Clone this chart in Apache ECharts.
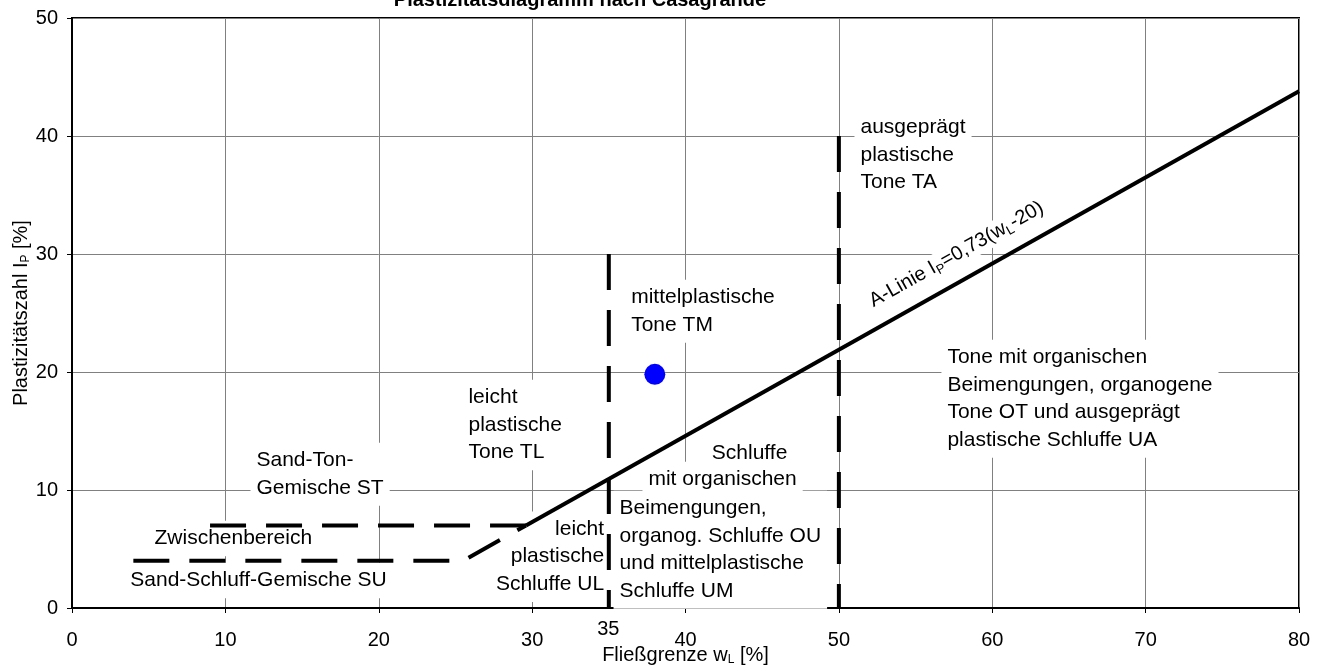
<!DOCTYPE html>
<html>
<head>
<meta charset="utf-8">
<script src="https://cdn.jsdelivr.net/npm/echarts@6/dist/echarts.min.js"></script>
<style>html,body{margin:0;padding:0;background:#fff}#c{width:1321px;height:671px}</style>
</head>
<body>
<div id="c"></div>
<script>
// ---- data ----
const xRange = [0, 80];
const yRange = [0, 50];
const aLineSolid = [[29.6, 7], [80, 43.8]];
const aLineDashed = [[4, 4], [25.5, 4], [29.6, 7]];
const stBoundary = [[9, 7], [29.6, 7]];
const wl35Line = [[35, 30], [35, 0]];
const wl50Line = [[50, 40], [50, 0]];
const samplePoint = [[38, 19.8]];
const extraTickLabel = { value: 35, text: '35' };

const regionTexts = [
  { text: 'ausgeprägt\nplastische\nTone TA', at: [51.05, 42.18], align: 'left' },
  { text: 'mittelplastische\nTone TM', at: [36.10, 27.78], align: 'left' },
  { text: 'leicht\nplastische\nTone TL', at: [25.49, 19.30], align: 'left' },
  { text: 'Sand-Ton-\nGemische ST', at: [11.67, 13.96], align: 'left' },
  { text: 'Zwischenbereich', at: [5.02, 7.35], align: 'left' },
  { text: 'Sand-Schluff-Gemische SU', at: [3.44, 3.79], align: 'left' },
  { text: 'leicht\nplastische\nSchluffe UL', at: [34.92, 8.14], align: 'right' },
  { text: 'Schluffe', at: [44.21, 14.58], align: 'center' },
  { text: 'mit organischen', at: [42.45, 12.35], align: 'center' },
  { text: 'Beimengungen,\norganog. Schluffe OU\nund mittelplastische\nSchluffe UM', at: [35.34, 9.89], align: 'left' },
  { text: 'Tone mit organischen\nBeimengungen, organogene\nTone OT und ausgeprägt\nplastische Schluffe UA', at: [56.72, 22.69], align: 'left' }
];
const aLineLabel = { text: 'A-Linie I{sub|P}=0,73(w{sub|L}-20)', at: [57.70, 29.92], rotate: 29.3 };

// ---- chart ----
const FF = '"Liberation Sans", Arial, Helvetica, sans-serif';
const chart = echarts.init(document.getElementById('c'), null, { renderer: 'canvas' });

const textData = regionTexts.map(t => ({
  value: t.at,
  label: {
    show: true,
    formatter: t.text,
    position: [0, 0],
    align: t.align,
    verticalAlign: 'top',
    fontSize: 21,
    lineHeight: 27.5,
    fontFamily: FF,
    color: '#000',
    opacity: 1,
    backgroundColor: '#fff',
    padding: t.align === 'right' ? [4, 3, 4, 6] : [4, 6, 4, 6]
  }
}));
textData.push({
  value: aLineLabel.at,
  label: {
    show: true,
    formatter: aLineLabel.text,
    position: [0, 0],
    align: 'center',
    verticalAlign: 'middle',
    rotate: aLineLabel.rotate,
    fontSize: 20,
    lineHeight: 24,
    fontFamily: FF,
    color: '#000',
    opacity: 1,
    backgroundColor: '#fff',
    padding: [0, 4, 0, 4],
    rich: { sub: { fontSize: 13, lineHeight: 10, verticalAlign: 'bottom', fontFamily: FF, color: '#000' } }
  }
});
textData.push({
  value: [extraTickLabel.value, 0],
  label: {
    show: true,
    formatter: extraTickLabel.text,
    position: [0, 0],
    align: 'center',
    verticalAlign: 'middle',
    offset: [0, 22],
    fontSize: 20,
    fontFamily: FF,
    color: '#000',
    opacity: 1
  }
});

const solid = { color: '#000', width: 4, type: 'solid' };
const dashed = { color: '#000', width: 4, type: [36, 20] };
function lineSeries(data, style) {
  return {
    type: 'line', data: data, showSymbol: false, symbol: 'none', z: 3,
    lineStyle: style, silent: true, clip: false, animation: false
  };
}

chart.setOption({
  animation: false,
  backgroundColor: '#fff',
  title: {
    text: 'Plastizitätsdiagramm nach Casagrande',
    left: 575, top: -15, textAlign: 'center',
    textStyle: { fontSize: 20, fontWeight: 'bold', color: '#000', fontFamily: FF }
  },
  grid: { left: 72, right: 22, top: 18, bottom: 63, show: true, borderColor: '#000', borderWidth: 2,
    containLabel: false, outerBoundsMode: 'none' },
  xAxis: {
    type: 'value', min: xRange[0], max: xRange[1], interval: 10,
    name: 'Fließgrenze w{sub|L} [%]', nameLocation: 'middle', nameGap: 36, nameMoveOverlap: false,
    nameTextStyle: { fontSize: 20, color: '#000', fontFamily: FF, lineHeight: 22,
      rich: { sub: { fontSize: 12, lineHeight: 8, verticalAlign: 'bottom', color: '#000', fontFamily: FF } } },
    axisLine: { lineStyle: { color: '#000', width: 2 } },
    axisTick: { show: true, length: 5, lineStyle: { color: '#000', width: 1 } },
    axisLabel: { fontSize: 20, color: '#000', fontFamily: FF, margin: 22 },
    splitLine: { show: true, lineStyle: { color: '#808080', width: 1 } }
  },
  yAxis: {
    type: 'value', min: yRange[0], max: yRange[1], interval: 10,
    name: 'Plastizitätszahl I{sub|P} [%]', nameLocation: 'middle', nameGap: 40, nameMoveOverlap: false,
    nameTextStyle: { fontSize: 20, color: '#000', fontFamily: FF, lineHeight: 22,
      rich: { sub: { fontSize: 12, lineHeight: 8, verticalAlign: 'bottom', color: '#000', fontFamily: FF } } },
    axisLine: { show: true, lineStyle: { color: '#000', width: 2 } },
    axisTick: { show: true, length: 5, lineStyle: { color: '#000', width: 1 } },
    axisLabel: { fontSize: 20, color: '#000', fontFamily: FF, margin: 14 },
    splitLine: { show: true, lineStyle: { color: '#808080', width: 1 } }
  },
  series: [
    {
      type: 'scatter', data: textData, symbolSize: 1, z: 1, silent: true, clip: false,
      itemStyle: { color: 'rgba(0,0,0,0)', opacity: 1 }
    },
    lineSeries(aLineSolid, solid),
    lineSeries(aLineDashed, dashed),
    lineSeries(stBoundary, dashed),
    lineSeries(wl35Line, dashed),
    lineSeries(wl50Line, dashed),
    {
      type: 'scatter', data: samplePoint, symbol: 'circle', symbolSize: 21, z: 4,
      itemStyle: { color: '#0000ff', opacity: 1 }, silent: true
    }
  ]
});
</script>
</body>
</html>
